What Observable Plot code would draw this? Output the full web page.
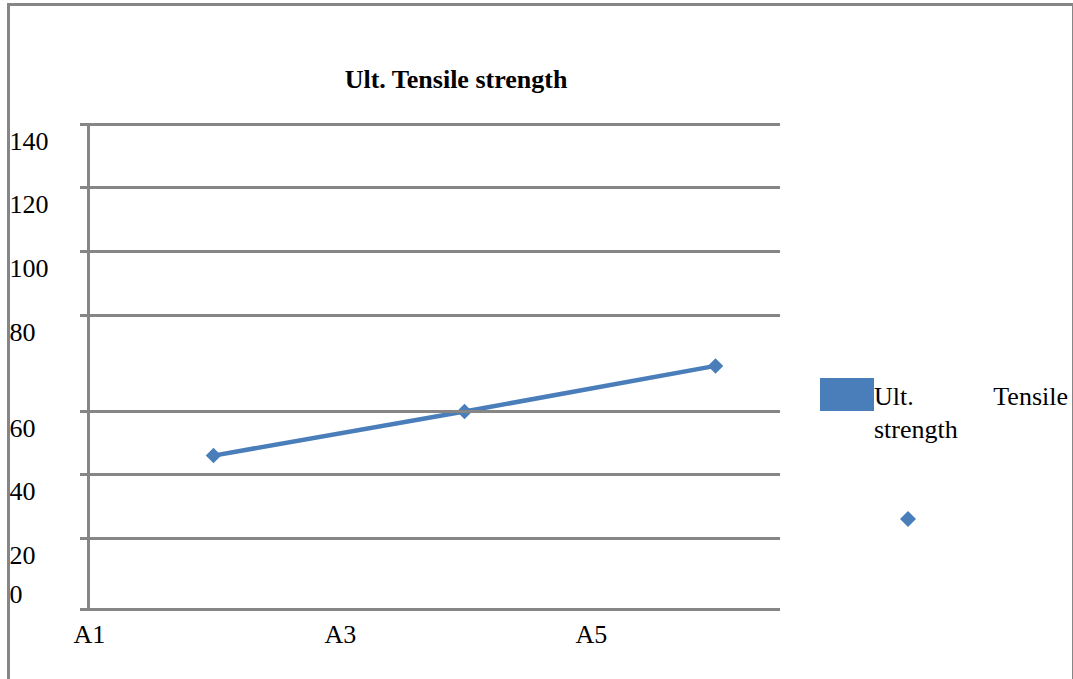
<!DOCTYPE html>
<html>
<head>
<meta charset="utf-8">
<script src="https://cdn.jsdelivr.net/npm/d3@7"></script>
<script src="https://cdn.jsdelivr.net/npm/@observablehq/plot@0.6"></script>
<style>
  body { margin: 0; background: #fff; }
  #wrap { position: relative; width: 1073px; height: 679px; overflow: hidden;
          font-family: "Liberation Serif", "Times New Roman", serif; color: #000; }
  #border { position: absolute; left: 7px; top: 3px; width: 1062px; height: 700px;
            border-left: 3px solid #868686; border-top: 3px solid #868686;
            border-right: 2px solid #868686; pointer-events: none; z-index: 3; }
  #chart { position: absolute; left: 0; top: 0; z-index: 1; }
  #chart svg { background: transparent; }
  #title { position: absolute; left: 206px; width: 500px; top: 65px; text-align: center;
           font-weight: bold; font-size: 26px; line-height: 30px; z-index: 2; }
  #legend-swatch { position: absolute; left: 820px; top: 378px; width: 54px; height: 33px;
                   background: #4a7ebb; z-index: 2; }
  #legend-text { position: absolute; left: 874px; top: 380px; width: 194px; text-align: justify;
                 font-size: 26px; line-height: 33px; z-index: 2; }
  #legend-marker { position: absolute; left: 899px; top: 510px; z-index: 2; }
</style>
</head>
<body>
<div id="wrap">
  <div id="border"></div>
  <div id="title">Ult. Tensile strength</div>
  <div id="chart"></div>
  <div id="legend-swatch"></div>
  <div id="legend-text">Ult. Tensile strength</div>
  <svg id="legend-marker" width="18" height="18"><polygon points="9,1 17,9 9,17 1,9" fill="#4a7ebb"/></svg>
</div>
<script>
const categories = ["A1", "A3", "A5"];
const values = [46, 60, 69.5];
const yTicks = [0, 20, 40, 60, 80, 100, 120, 140];
const seriesName = "Ult. Tensile strength";

const data = categories.map((c, i) => ({cat: c, value: values[i], series: seriesName}));
const grey = "#868686";
const blue = "#4a7ebb";

const chart = Plot.plot({
  width: 1073,
  height: 679,
  marginTop: 124,
  marginBottom: 70,
  marginLeft: 88,
  marginRight: 293,
  style: {fontFamily: "Liberation Serif, Times New Roman, serif", fontSize: "26px", background: "transparent", color: "#000"},
  x: {type: "point", domain: categories, range: [212, 715], padding: 0},
  y: {type: "linear", domain: yTicks, range: [609, 538, 474, 411, 315, 251, 187, 124]},
  marks: [
    Plot.line(data, {x: "cat", y: "value", stroke: blue, strokeWidth: 4.5}),
    Plot.dot(data, {x: "cat", y: "value", symbol: "diamond2", r: 7, fill: blue, stroke: "none"}),
    Plot.ruleY(yTicks, {stroke: grey, strokeWidth: 3, insetLeft: -8}),
    Plot.frame({anchor: "left", stroke: grey, strokeWidth: 3}),
    Plot.axisY(yTicks.filter(t => t !== 0), {tickSize: 0, tickPadding: 0, textAnchor: "start", dx: -79, dy: 17, fontSize: 26, label: null}),
    Plot.axisY([0], {tickSize: 0, tickPadding: 0, textAnchor: "start", dx: -79, dy: -15, fontSize: 26, label: null}),
    Plot.axisX({tickSize: 0, tickPadding: 15, textAnchor: "start", dx: -140, fontSize: 26, label: null})
  ]
});
document.getElementById("chart").appendChild(chart);
</script>
</body>
</html>
